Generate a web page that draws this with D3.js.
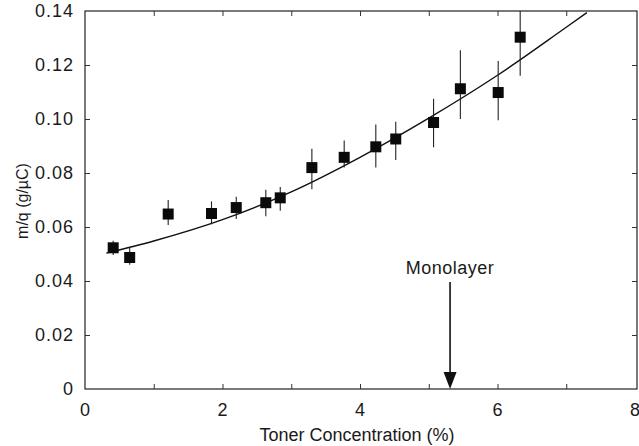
<!DOCTYPE html>
<html>
<head>
<meta charset="utf-8">
<script src="https://cdn.jsdelivr.net/npm/d3@7"></script>
<style>
html,body{margin:0;padding:0;background:#fff;}
svg{display:block;}
text{font-family:"Liberation Sans",Arial,Helvetica,sans-serif;fill:#1a1a1a;}
</style>
</head>
<body>
<svg id="chart" width="639" height="446"></svg>
<script>
// Data
const concentration = [0.41, 0.65, 1.21, 1.84, 2.2, 2.63, 2.84, 3.3, 3.77, 4.23, 4.52, 5.07, 5.46, 6.01, 6.33];
const massCharge    = [0.0523, 0.0487, 0.0648, 0.0650, 0.0672, 0.0690, 0.0708, 0.0820, 0.0858, 0.0897, 0.0926, 0.0987, 0.1112, 0.1098, 0.1303];
const errUpper      = [0.0549, 0.0522, 0.0700, 0.0695, 0.0712, 0.0738, 0.0748, 0.0890, 0.0920, 0.0980, 0.0990, 0.1075, 0.1255, 0.1215, 0.1400];
const errLower      = [0.0496, 0.0460, 0.0607, 0.0610, 0.0630, 0.0640, 0.0660, 0.0740, 0.0820, 0.0820, 0.0848, 0.0895, 0.1000, 0.0995, 0.1160];
const fitX = [0.31, 1.0, 2.0, 3.0, 4.0, 5.0, 6.0, 7.0, 7.3];
const fitY = [0.0503, 0.0548, 0.0627, 0.0730, 0.0858, 0.1003, 0.1162, 0.1340, 0.1394];
const xTickLabels = [0, 2, 4, 6, 8];
const yTickLabels = [0, 0.02, 0.04, 0.06, 0.08, 0.10, 0.12, 0.14];
const monolayerX = 5.31;
const xTitle = "Toner Concentration (%)";
const yTitle = "m/q (g/µC)";
const annotation = "Monolayer";

(function () {
const svg = d3.select("#chart");
const L = 85, R = 637, T = 11, B = 389;
const x = d3.scaleLinear().domain([0, 8]).range([L, R - 2]);
const y = d3.scaleLinear().domain([0, 0.14]).range([B, T]);

// frame
svg.append("rect").attr("x", L).attr("y", T).attr("width", R - L).attr("height", B - T)
  .attr("fill", "none").attr("stroke", "#222").attr("stroke-width", 1.2);

const xMinor = d3.range(1, 8);
const yAll = yTickLabels;

const xb = svg.append("g").attr("transform", `translate(0,${B})`)
  .call(d3.axisBottom(x).tickValues(xMinor).tickSize(-5).tickFormat(""));
xb.select(".domain").remove();
const xt = svg.append("g").attr("transform", `translate(0,${T})`)
  .call(d3.axisTop(x).tickValues(xMinor).tickSize(-5).tickFormat(""));
xt.select(".domain").remove();
const xl = svg.append("g").attr("transform", `translate(0,${B})`)
  .call(d3.axisBottom(x).tickValues(xTickLabels).tickSize(0).tickPadding(14).tickFormat(d3.format("d")));
xl.select(".domain").remove();
xl.selectAll("text").style("font-size", "18px").style("letter-spacing", "1px");

const yl = svg.append("g").attr("transform", `translate(${L},0)`)
  .call(d3.axisLeft(y).tickValues(yAll).tickSize(0).tickPadding(11)
    .tickFormat(d => d === 0 ? "0" : d3.format(".2f")(d)));
yl.select(".domain").remove();
yl.selectAll("text").style("font-size", "18px").style("letter-spacing", "1px");
const yli = svg.append("g").attr("transform", `translate(${L},0)`)
  .call(d3.axisRight(y).tickValues(yAll.slice(1, -1)).tickSize(5).tickFormat(""));
yli.select(".domain").remove();
const yr = svg.append("g").attr("transform", `translate(${R},0)`)
  .call(d3.axisLeft(y).tickValues(yAll.slice(1, -1)).tickSize(5).tickFormat(""));
yr.select(".domain").remove();
svg.selectAll(".tick line").attr("stroke", "#333");

svg.append("text").attr("x", (L + R) / 2 - 4).attr("y", 441).attr("text-anchor", "middle")
  .style("font-size", "18px").text(xTitle);
svg.append("text").attr("transform", `translate(28,${201}) rotate(-90)`)
  .attr("text-anchor", "middle").style("font-size", "16px").text(yTitle);

svg.append("path").datum(fitX.map((d, i) => [d, fitY[i]]))
  .attr("fill", "none").attr("stroke", "#111").attr("stroke-width", 1.4)
  .attr("d", d3.line().x(d => x(d[0])).y(d => y(d[1])).curve(d3.curveMonotoneX));

const pts = concentration.map((c, i) => ({c, v: massCharge[i], hi: errUpper[i], lo: errLower[i]}));
svg.append("g").selectAll("line").data(pts).join("line")
  .attr("x1", d => x(d.c)).attr("x2", d => x(d.c))
  .attr("y1", d => y(d.hi)).attr("y2", d => y(d.lo))
  .attr("stroke", "#222").attr("stroke-width", 1.1);

const s = 11;
svg.append("g").selectAll("rect").data(pts).join("rect")
  .attr("x", d => x(d.c) - s / 2).attr("y", d => y(d.v) - s / 2)
  .attr("width", s).attr("height", s).attr("fill", "#0a0a0a");

const ax = x(monolayerX);
svg.append("line").attr("x1", ax).attr("x2", ax).attr("y1", 282).attr("y2", B - 14)
  .attr("stroke", "#111").attr("stroke-width", 1.6);
svg.append("path").attr("d", `M${ax - 6.5},${B - 17} L${ax + 6.5},${B - 17} L${ax},${B} Z`)
  .attr("fill", "#111");
svg.append("text").attr("x", ax).attr("y", 274).attr("text-anchor", "middle")
  .style("font-size", "18px").style("letter-spacing", "0.5px").text(annotation);
})();
</script>
</body>
</html>
